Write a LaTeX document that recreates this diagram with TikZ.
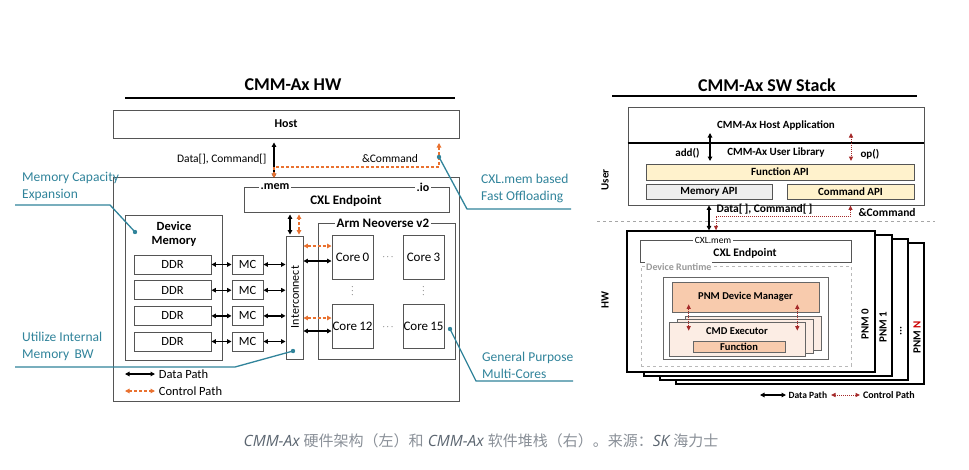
\documentclass[tikz,border=0pt]{standalone}
\usepackage{fontspec}
\setmainfont{Carlito}
\newfontfamily\cjk{Noto Sans CJK SC}
\newfontfamily\capfont{Open Sans}
\usetikzlibrary{arrows.meta,positioning}
\definecolor{leadteal}{HTML}{31849B}
\definecolor{ctrlorange}{HTML}{E9712F}
\definecolor{ctrlred}{HTML}{A52A2A}
\definecolor{apiyellow}{HTML}{FFF2CC}
\definecolor{apigray}{HTML}{EEEEEE}
\definecolor{pnmsalmon}{HTML}{F8CBAD}
\definecolor{pnmpeach}{HTML}{FCEDE4}
\definecolor{boxgray}{HTML}{555555}
\definecolor{capgray}{HTML}{5B6570}
\definecolor{cjkgray}{HTML}{8A9098}
\newcommand{\fs}[1]{\fontsize{#1}{#1}\selectfont}
\begin{document}
\begin{tikzpicture}[x=1pt, y=-1pt,
        hwbox/.style={draw=boxgray, line width=0.9pt, inner sep=0pt},
        swbox/.style={draw=black, line width=0.9pt, inner sep=0pt},
        datapath/.style={{Triangle[length=4.5pt, width=4.5pt]}-{Triangle[length=4.5pt, width=4.5pt]}, line width=1.2pt, black},
        ctrlpath/.style={{Triangle[length=4.5pt, width=4.5pt]}-{Triangle[length=4.5pt, width=4.5pt]}, line width=1.2pt, ctrlorange, dash pattern=on 3pt off 2pt},
        swctrl/.style={{Triangle[length=4.5pt, width=4pt]}-{Triangle[length=4.5pt, width=4pt]}, line width=1pt, ctrlred, densely dotted},
        lead/.style={leadteal, line width=1.3pt},
        leadtext/.style={text=leadteal, font=\fs{13.5}, align=left, anchor=west, inner sep=0pt},
        hwtitle/.style={font=\fs{18}\bfseries},
        corebox/.style={hwbox, minimum width=41pt, minimum height=44pt, font=\fs{13}},
    ]
    \useasboundingbox[fill=white] (0,0) rectangle (969,469);

    % Left: CMM-Ax HW
    \node[hwtitle] (hw-title) at (293,85) {CMM-Ax HW};
    \coordinate (hw-rule-l) at (125,98);
    \coordinate (hw-rule-r) at (455,98);
    \draw[line width=1.3pt] (hw-rule-l) -- (hw-rule-r);

    \node[hwbox, minimum width=346pt, minimum height=28pt, font=\fs{12}\bfseries] (host) at (286,124) {Host};
    \node[hwbox, minimum width=346pt, minimum height=224pt] (devframe) at (286,289) {};

    \node[hwbox, minimum width=205pt, minimum height=25pt] (cxl) at (346.5,199.5) {};
    \node[font=\fs{13}\bfseries] (cxl-lbl) at (346,201) {CXL Endpoint};
    \node[fill=white, inner sep=1.5pt, font=\fs{12}\bfseries] (cxl-mem) at (275,187) {.mem};
    \node[fill=white, inner sep=1.5pt, font=\fs{12}\bfseries] (cxl-io) at (423,187) {.io};

    \node[hwbox, minimum width=17pt, minimum height=123pt] (ic) at (294.5,297.5) {};
    \node[rotate=90, font=\fs{12}] (ic-lbl) at (295,297) {Interconnect};

    % cores
    \node[hwbox, minimum width=137pt, minimum height=136pt] (arm) at (386.5,291) {};
    \node[fill=white, inner sep=2pt, font=\fs{13}\bfseries] (arm-lbl) at (383,223) {Arm Neoverse v2};
    \node[corebox] (core0) at (352.5,257) {Core\,0};
    \node[corebox] (core3) at (423.5,257) {Core\,3};
    \node[corebox] (core12) at (352.5,326) {Core\,12};
    \node[corebox] (core15) at (423.5,326) {Core\,15};
    \node[inner sep=0pt, font=\fs{9}\bfseries] (dots-top) at (388,257) {$\cdots$};
    \node[inner sep=0pt, font=\fs{9}\bfseries] (dots-bot) at (388,327) {$\cdots$};
    \node[rotate=90, inner sep=0pt, font=\fs{9}\bfseries] (vdots-l) at (352.5,291) {$\cdots$};
    \node[rotate=90, inner sep=0pt, font=\fs{9}\bfseries] (vdots-r) at (423.5,291) {$\cdots$};

    % device memory
    \node[hwbox, minimum width=97pt, minimum height=145pt] (devmem) at (173.5,287.5) {};
    \node[align=center, font=\fs{12.5}\bfseries] (devmem-lbl) at (174,234) {Device\\[2pt]Memory};
    \foreach \i/\y in {1/264.5, 2/290.2, 3/315.9, 4/341.5} {
        \node[hwbox, minimum width=77pt, minimum height=19pt, font=\fs{12.5}] (ddr\i) at (172.5,\y) {DDR};
        \node[hwbox, minimum width=31pt, minimum height=19pt, font=\fs{12.5}] (mc\i) at (247.5,\y) {MC};
        \draw[datapath] (ddr\i) -- (mc\i);
        \draw[datapath] (mc\i.east) -- (mc\i.east -| ic.west);
    }

    \draw[datapath] ([yshift=-4pt]core0.west -| ic.east) -- ([yshift=-4pt]core0.west);
    \draw[ctrlpath] ([yshift=11pt]core0.west -| ic.east) -- ([yshift=11pt]core0.west);
    \draw[datapath] ([yshift=-5pt]core12.west -| ic.east) -- ([yshift=-5pt]core12.west);
    \draw[ctrlpath] ([yshift=8pt]core12.west -| ic.east) -- ([yshift=8pt]core12.west);
    \draw[datapath, shorten <=1pt, shorten >=2pt] ([xshift=-4.5pt]ic.north) -- ([xshift=-4.5pt]ic.north |- cxl.south);
    \draw[ctrlpath, shorten <=1pt, shorten >=2pt] ([xshift=4.5pt]ic.north) -- ([xshift=4.5pt]ic.north |- cxl.south);

    % host link
    \coordinate (memtap) at (274,178);
    \coordinate (cmdtap) at (439,143);
    \coordinate (cmdbend) at (439,167);
    \draw[datapath, shorten <=4pt] (host.south -| memtap) -- (memtap);
    \draw[ctrlpath] (cmdtap) -- (cmdbend) -| (memtap);
    \node[anchor=east, font=\fs{11.5}] (hw-data) at (270,159) {Data[], Command[]};
    \node[font=\fs{11.5}] (hw-cmd) at (390,159) {\&Command};

    % legend
    \coordinate (hw-leg1) at (125,374);
    \coordinate (hw-leg2) at (125,391);
    \draw[datapath] (hw-leg1) -- ++(30,0) node[right, text=black, font=\fs{12.5}] (hw-leg1-lbl) {Data Path};
    \draw[ctrlpath] (hw-leg2) -- ++(30,0) node[right, text=black, font=\fs{12.5}] (hw-leg2-lbl) {Control Path};

    % annotations
    \node[leadtext] (mce) at (22,186.5) {Memory Capacity\\[3pt]Expansion};
    \coordinate (mce-end) at (15,205);
    \coordinate (mce-knee) at (110,205);
    \coordinate (mce-dot) at (135,232);
    \draw[lead] (mce-end) -- (mce-knee) -- (mce-dot);
    \fill[leadteal] (mce-dot) circle (2.2pt);

    \node[leadtext] (umb) at (22,346.5) {Utilize Internal\\[3pt]Memory\, BW};
    \coordinate (umb-end) at (15,367);
    \coordinate (umb-knee) at (235,367);
    \coordinate (umb-dot) at (293,351);
    \draw[lead] (umb-end) -- (umb-knee) -- (umb-dot);
    \fill[leadteal] (umb-dot) circle (2.2pt);

    \node[leadtext] (cfo) at (481,188.5) {CXL.mem based\\[3pt]Fast Offloading};
    \coordinate (cfo-dot) at (439,157);
    \coordinate (cfo-knee) at (467,209);
    \coordinate (cfo-end) at (571,209);
    \draw[lead] (cfo-dot) -- (cfo-knee) -- (cfo-end);
    \fill[leadteal] (cfo-dot) circle (2.2pt);

    \node[leadtext] (gpm) at (482,365.5) {General Purpose\\[3pt]Multi-Cores};
    \coordinate (gpm-dot) at (450,329);
    \coordinate (gpm-knee) at (476,381);
    \coordinate (gpm-end) at (573,381);
    \draw[lead] (gpm-dot) -- (gpm-knee) -- (gpm-end);
    \fill[leadteal] (gpm-dot) circle (2.2pt);

    % Right: CMM-Ax SW Stack
    \node[hwtitle] (sw-title) at (767,85) {CMM-Ax SW Stack};
    \coordinate (sw-rule-l) at (612,96);
    \coordinate (sw-rule-r) at (917,96);
    \draw[line width=1.3pt] (sw-rule-l) -- (sw-rule-r);

    \node[draw=boxgray, line width=0.9pt, minimum width=296pt, minimum height=98pt] (hostapp) at (776,156) {};
    \coordinate (div) at (776,143);
    \draw[line width=2pt] (div -| hostapp.west) -- (div -| hostapp.east);
    \node[font=\fs{11}\bfseries] (hostapp-lbl) at (776,125) {CMM-Ax Host Application};
    \node[font=\fs{11}\bfseries] (userlib-lbl) at (776,153) {CMM-Ax User Library};
    \node[anchor=east, font=\fs{11}\bfseries] (add) at (703,153) {add()};
    \node[anchor=west, font=\fs{11}\bfseries] (op) at (857,154) {op()};
    \coordinate (add-top) at (710,133);
    \coordinate (add-bot) at (710,161);
    \coordinate (op-top) at (851,133);
    \coordinate (op-bot) at (851,161);
    \draw[datapath] (add-top) -- (add-bot);
    \draw[swctrl] (op-top) -- (op-bot);

    \node[draw=boxgray, line width=0.7pt, fill=apiyellow, minimum width=268pt, minimum height=16pt, inner sep=0pt, font=\fs{11}\bfseries] (funcapi) at (780,172) {Function API};
    \node[draw=boxgray, line width=0.7pt, fill=apigray, minimum width=126pt, minimum height=15pt, inner sep=0pt, font=\fs{11}\bfseries] (memapi) at (709,191.5) {Memory API};
    \node[draw=boxgray, line width=0.7pt, fill=apiyellow, minimum width=127pt, minimum height=15pt, inner sep=0pt, font=\fs{11}\bfseries] (cmdapi) at (850.5,191.5) {Command API};

    % user / hw split
    \coordinate (split-l) at (597,221);
    \coordinate (split-r) at (935,221);
    \draw[gray!70, dashed, line width=0.6pt] (split-l) -- (split-r);
    \node[rotate=90, font=\fs{11}\bfseries] (user-lbl) at (605,180) {User};
    \node[rotate=90, font=\fs{11}\bfseries] (hw-lbl) at (605,300) {HW};

    % PNM stack
    \foreach \i/\dx/\dy in {3/49/12, 2/33/8, 1/17/4, 0/0/0} {
        \node[swbox, line width=1.3pt, fill=white, minimum width=248pt, minimum height=141pt] (pnm\i) at (751+\dx,301.5+\dy) {};
    }
    \node[rotate=90, font=\fs{11}\bfseries] (pnm0-lbl) at (865,324) {PNM 0};
    \node[rotate=90, font=\fs{11}\bfseries] (pnm1-lbl) at (883,327) {PNM 1};
    \node[rotate=90, font=\fs{11}\bfseries] (pnm2-lbl) at (901,331) {...};
    \node[rotate=90, font=\fs{11}\bfseries] (pnm3-lbl) at (917,337) {PNM \textcolor{red!80!black}{N}};

    \node[swbox, draw=boxgray, minimum width=211pt, minimum height=22pt] (cxlep) at (745.5,251) {};
    \node[font=\fs{11.5}\bfseries] (cxlep-lbl) at (745,253) {CXL Endpoint};
    \node[fill=white, inner sep=1.5pt, font=\fs{9.5}] (cxlep-mem) at (713,240) {CXL.mem};

    \node[draw=gray!55, dashed, line width=0.7pt, minimum width=210pt, minimum height=100pt] (runtime) at (746,316) {};
    \node[anchor=west, fill=white, inner sep=1pt, text=gray!80, font=\fs{10}\bfseries] (runtime-lbl) at (645,267) {Device Runtime};
    \node[draw=gray!80!black, line width=0.6pt, minimum width=165pt, minimum height=82pt] (rt-inner) at (745.5,318) {};
    \node[draw=gray!80!black, line width=0.6pt, fill=pnmsalmon, minimum width=147pt, minimum height=30pt, font=\fs{10.5}\bfseries] (pnmdm) at (745.5,297) {PNM Device Manager};

    \foreach \k/\dx/\dy in {2/16/-6, 1/8/-3, 0/0/0} {
        \node[draw=gray!80!black, line width=0.6pt, fill=pnmpeach, minimum width=136pt, minimum height=34pt] (cmdex\k) at (737+\dx,339+\dy) {};
    }
    \node[font=\fs{10.5}\bfseries] (cmdex-lbl) at (737,331) {CMD Executor};
    \node[draw=gray!80!black, line width=0.6pt, fill=pnmsalmon, minimum width=92pt, minimum height=11pt, inner sep=0pt, font=\fs{10.5}\bfseries] (func) at (739,346.5) {Function};

    \draw[swctrl, shorten <=-8pt, shorten >=-9pt] ([xshift=20pt]cmdex0.west |- pnmdm.south) -- ([xshift=20pt]cmdex0.west |- cmdex0.north);
    \draw[swctrl, shorten <=-8pt, shorten >=-9pt] ([xshift=-8pt]cmdex0.east |- pnmdm.south) -- ([xshift=-8pt]cmdex0.east |- cmdex0.north);

    % host <-> PNM
    \draw[datapath] (hostapp.south -| memapi) -- (pnm0.north -| memapi);
    \coordinate (sw-bend) at (716,216);
    \draw[swctrl] (hostapp.south -| cmdapi) |- (sw-bend) -- (sw-bend |- pnm0.north);
    \node[anchor=west, font=\fs{11.5}\bfseries] (sw-data) at (713,209) {Data[\,], Command[\,]};
    \node[anchor=west, font=\fs{11.5}\bfseries] (sw-cmd) at (855,213) {\&Command};

    % legend
    \coordinate (sw-leg1) at (760,395);
    \coordinate (sw-leg2) at (831,395);
    \draw[datapath] (sw-leg1) -- ++(26,0) node[right, inner sep=2pt, text=black, font=\fs{9.5}\bfseries] (sw-leg1-lbl) {Data Path};
    \draw[swctrl] (sw-leg2) -- ++(29,0) node[right, inner sep=2.5pt, text=black, font=\fs{10}\bfseries] (sw-leg2-lbl) {Control Path};

    % caption
    \node[text=capgray, font=\fs{15.5}] (caption) at (481,441) {\capfont\itshape CMM-Ax {\cjk\fs{15}\color{cjkgray}硬件架构（左）和} CMM-Ax {\cjk\fs{15}\color{cjkgray}软件堆栈（右）。来源：}SK {\cjk\fs{15}\color{cjkgray}海力士}};
\end{tikzpicture}
\end{document}
